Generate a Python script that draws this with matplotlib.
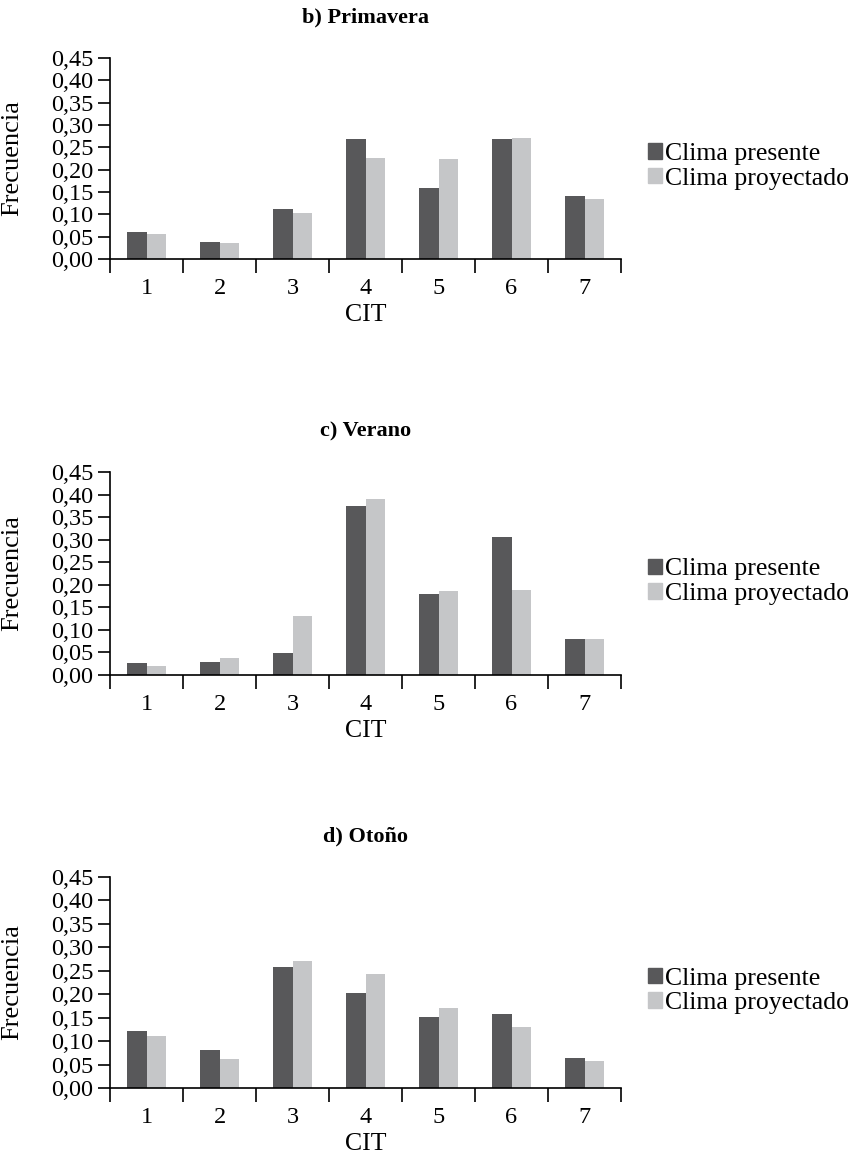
import matplotlib
matplotlib.use("Agg")
import matplotlib.pyplot as plt
from matplotlib.patches import Patch
from matplotlib.ticker import FuncFormatter, MultipleLocator
import numpy as np

plt.rcParams["font.family"] = ["Liberation Serif", "DejaVu Serif"]

categories = [1, 2, 3, 4, 5, 6, 7]
titles = ["b) Primavera", "c) Verano", "d) Otoño"]
series_names = ["Clima presente", "Clima proyectado"]

primavera_presente = [0.060, 0.038, 0.113, 0.268, 0.160, 0.268, 0.142]
primavera_proyectado = [0.056, 0.035, 0.104, 0.226, 0.224, 0.271, 0.134]
verano_presente = [0.027, 0.029, 0.049, 0.375, 0.180, 0.305, 0.079]
verano_proyectado = [0.019, 0.037, 0.130, 0.391, 0.187, 0.189, 0.079]
otono_presente = [0.122, 0.082, 0.258, 0.203, 0.151, 0.158, 0.065]
otono_proyectado = [0.110, 0.061, 0.271, 0.243, 0.170, 0.130, 0.057]

panels = [
    (primavera_presente, primavera_proyectado),
    (verano_presente, verano_proyectado),
    (otono_presente, otono_proyectado),
]

DARK = "#58585a"
LIGHT = "#c5c6c8"
W, H = 857, 1155

fig = plt.figure(figsize=(W / 100, H / 100), dpi=100)

# axes boxes in pixels: (y of 0.45, y of 0.00)
boxes = [(58, 259), (472, 675), (877, 1088)]
x0, x1 = 110, 621

x = np.array(categories, dtype=float)
bw = 0.27
for (pres, proj), title, (ytop, ybot) in zip(panels, titles, boxes):
    ax = fig.add_axes([x0 / W, 1 - ybot / H, (x1 - x0) / W, (ybot - ytop) / H])
    ax.bar(x - bw / 2, pres, width=bw, color=DARK)
    ax.bar(x + bw / 2, proj, width=bw, color=LIGHT)
    ax.set_xlim(0.5, 7.5)
    ax.set_ylim(0, 0.45)
    ax.yaxis.set_major_locator(MultipleLocator(0.05))
    ax.yaxis.set_major_formatter(FuncFormatter(lambda v, p: f"{v:.2f}".replace(".", ",")))
    ax.set_xticks(categories)
    ax.set_xticks(np.arange(0.5, 8.0, 1.0), minor=True)
    ax.tick_params(axis="x", which="major", length=0, pad=14, labelsize=17.5)
    ax.tick_params(axis="x", which="minor", length=10, width=1.2, direction="out")
    ax.tick_params(axis="y", length=9, width=1.2, labelsize=17.5, pad=3)
    for s in ("top", "right"):
        ax.spines[s].set_visible(False)
    for s in ("left", "bottom"):
        ax.spines[s].set_linewidth(1.2)
    ax.set_xlabel("CIT", fontsize=18.5, labelpad=3)
    ax.set_ylabel("Frecuencia", fontsize=19)
    ax.yaxis.set_label_coords((23 - x0) / (x1 - x0), 0.5)
    fig.text((x0 + x1) / 2 / W, 1 - (ytop - 41) / H, title, ha="center", va="center",
             fontsize=16, fontweight="bold")
    handles = [Patch(color=DARK), Patch(color=LIGHT)]
    ax.legend(handles, series_names, loc="center left", bbox_to_anchor=(1.053, 0.46),
              frameon=False, fontsize=18.5, handlelength=0.55, handleheight=0.55,
              handletextpad=0.12, labelspacing=0.1, borderaxespad=0, borderpad=0)

fig.savefig("out.png", dpi=100)
